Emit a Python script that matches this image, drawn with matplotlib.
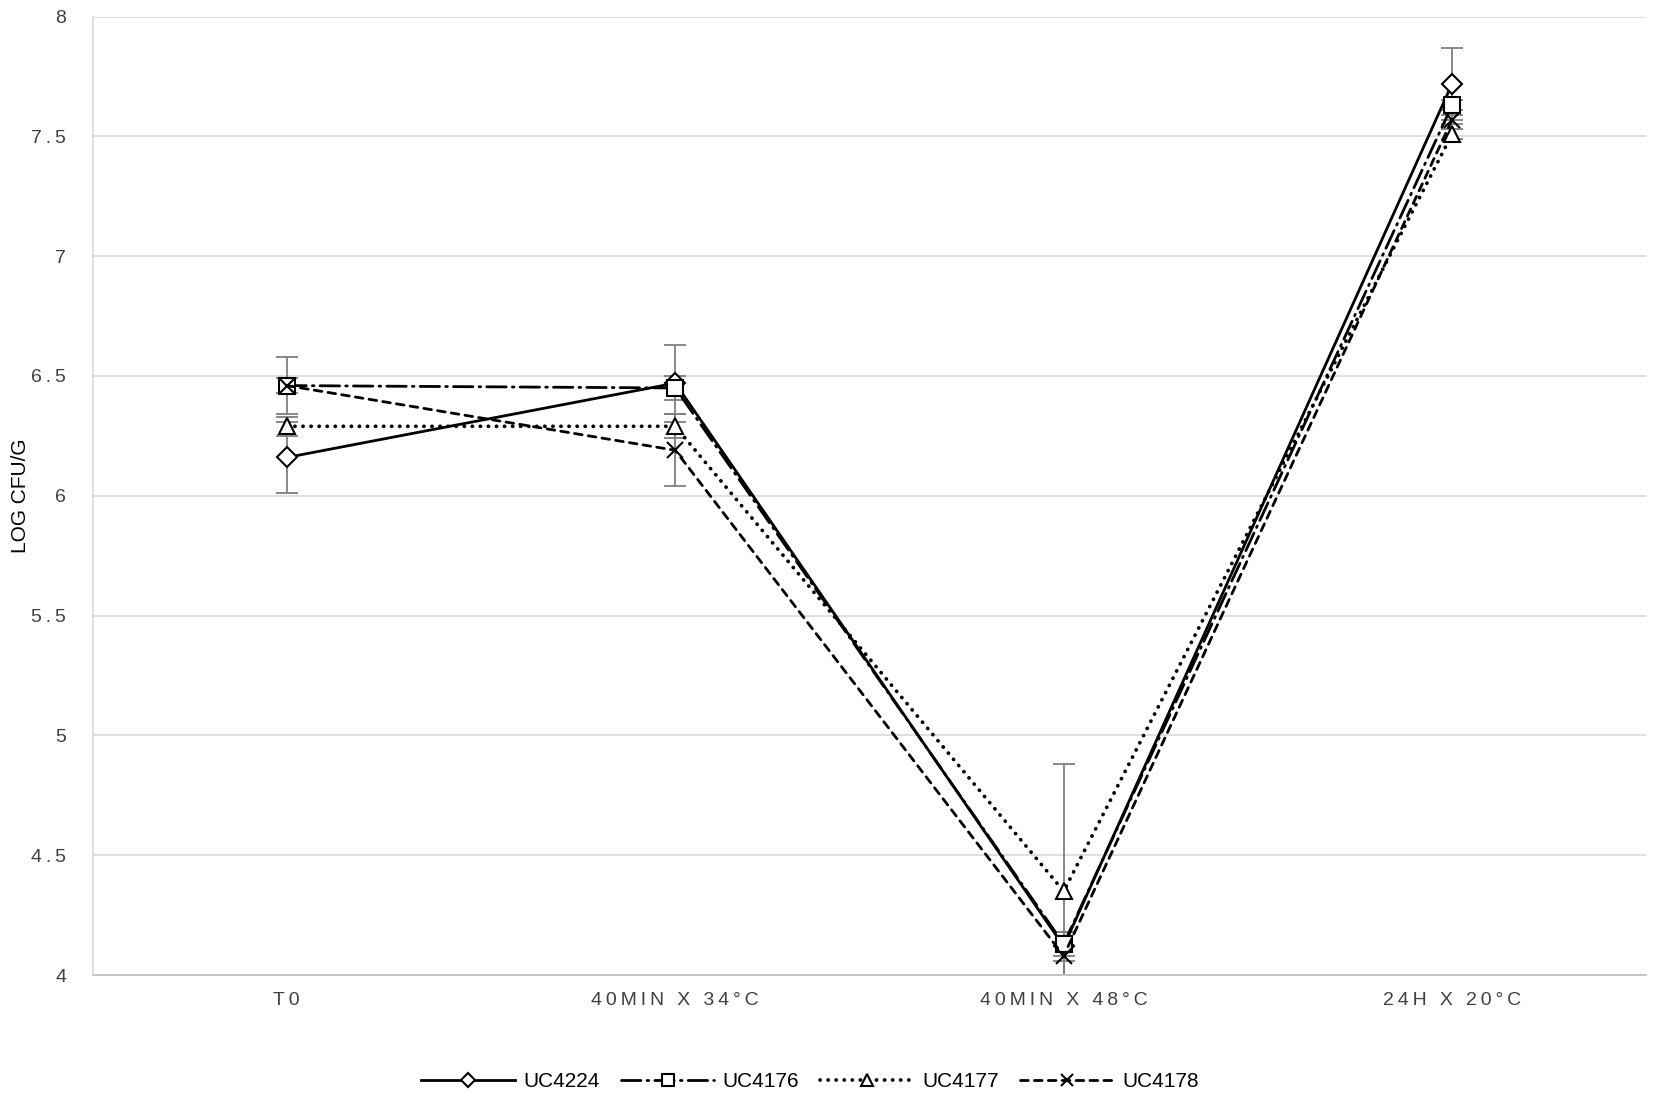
import numpy as np
import matplotlib
matplotlib.use('Agg')
import matplotlib.pyplot as plt

plt.rcParams['font.family'] = ['Liberation Sans', 'DejaVu Sans']

# 数据
stages = ['T0', '40MIN X 34°C', '40MIN X 48°C', '24H X 20°C']
strains = ['UC4224', 'UC4176', 'UC4177', 'UC4178']
ytick_vals = [4, 4.5, 5, 5.5, 6, 6.5, 7, 7.5, 8]

uc4224 = [6.16, 6.47, 4.12, 7.72]
uc4176 = [6.46, 6.45, 4.13, 7.63]
uc4177 = [6.29, 6.29, 4.35, 7.51]
uc4178 = [6.46, 6.19, 4.08, 7.57]

err4224 = [0.15, 0.16, 0.06, 0.15]
err4176 = [0.12, 0.05, 0.05, 0.02]
err4177 = [0.04, 0.05, 0.53, 0.02]
err4178 = [0.03, 0.15, 0.10, 0.02]

series = [uc4224, uc4176, uc4177, uc4178]
errors = [err4224, err4176, err4177, err4178]
# 线型, 标记, 标记大小, 线宽
styles = [
    ('-', 'D', 10, 2.0),
    ((0, (7, 2.2, 0.6, 2.2)), 's', 11, 2.0),
    ((0, (0.05, 2.1)), '^', 12, 2.7),
    ((0, (2.8, 2.2)), 'x', 12, 2.0),
]


def spaced(s):
    # 模拟字距
    return '\u2009'.join(s)


fig = plt.figure(figsize=(16.53, 11.03), dpi=100)
ax = fig.add_axes([0.056, 0.116, 0.94, 0.869])

x = np.arange(len(stages))

# 误差棒（灰色）
for vals, err in zip(series, errors):
    ax.errorbar(x, vals, yerr=err, fmt='none', ecolor='#7f7f7f',
                elinewidth=1.3, capsize=8, capthick=1.3, zorder=2)

# 折线
for vals, name, (ls, mk, ms, lw) in zip(series, strains, styles):
    line, = ax.plot(x, vals, linestyle=ls, color='black', linewidth=lw,
                    marker=mk, markersize=ms, markerfacecolor='white',
                    markeredgecolor='black', markeredgewidth=1.5,
                    label=name, zorder=3)
    line.set_dash_capstyle('round')

ax.set_xlim(-0.5, len(stages) - 0.5)
ax.set_ylim(4, 8)
ax.set_yticks(ytick_vals)
ax.set_yticklabels([spaced('%g' % v) for v in ytick_vals])
ax.set_xticks(x)
ax.set_xticklabels([spaced(s) for s in stages])
ax.tick_params(axis='both', length=0, labelsize=14, colors='#404040')
ax.tick_params(axis='y', pad=19)
ax.tick_params(axis='x', pad=12)
ax.grid(axis='y', color='#d9d9d9', linewidth=1.2)
ax.set_axisbelow(True)
for side in ['top', 'right']:
    ax.spines[side].set_visible(False)
ax.spines['left'].set_color('#d9d9d9')
ax.spines['bottom'].set_color('#bfbfbf')
ax.spines['left'].set_linewidth(1.2)
ax.spines['bottom'].set_linewidth(1.2)

ax.set_ylabel('LOG CFU/G', fontsize=15)
ax.yaxis.set_label_coords(-0.04, 0.5)

fig.legend(loc='lower center', bbox_to_anchor=(0.49, -0.006), ncol=4,
           frameon=False, handlelength=4.5, columnspacing=1.0,
           handletextpad=0.4, markerscale=0.75, fontsize=15)

fig.savefig('out.png', dpi=100)
